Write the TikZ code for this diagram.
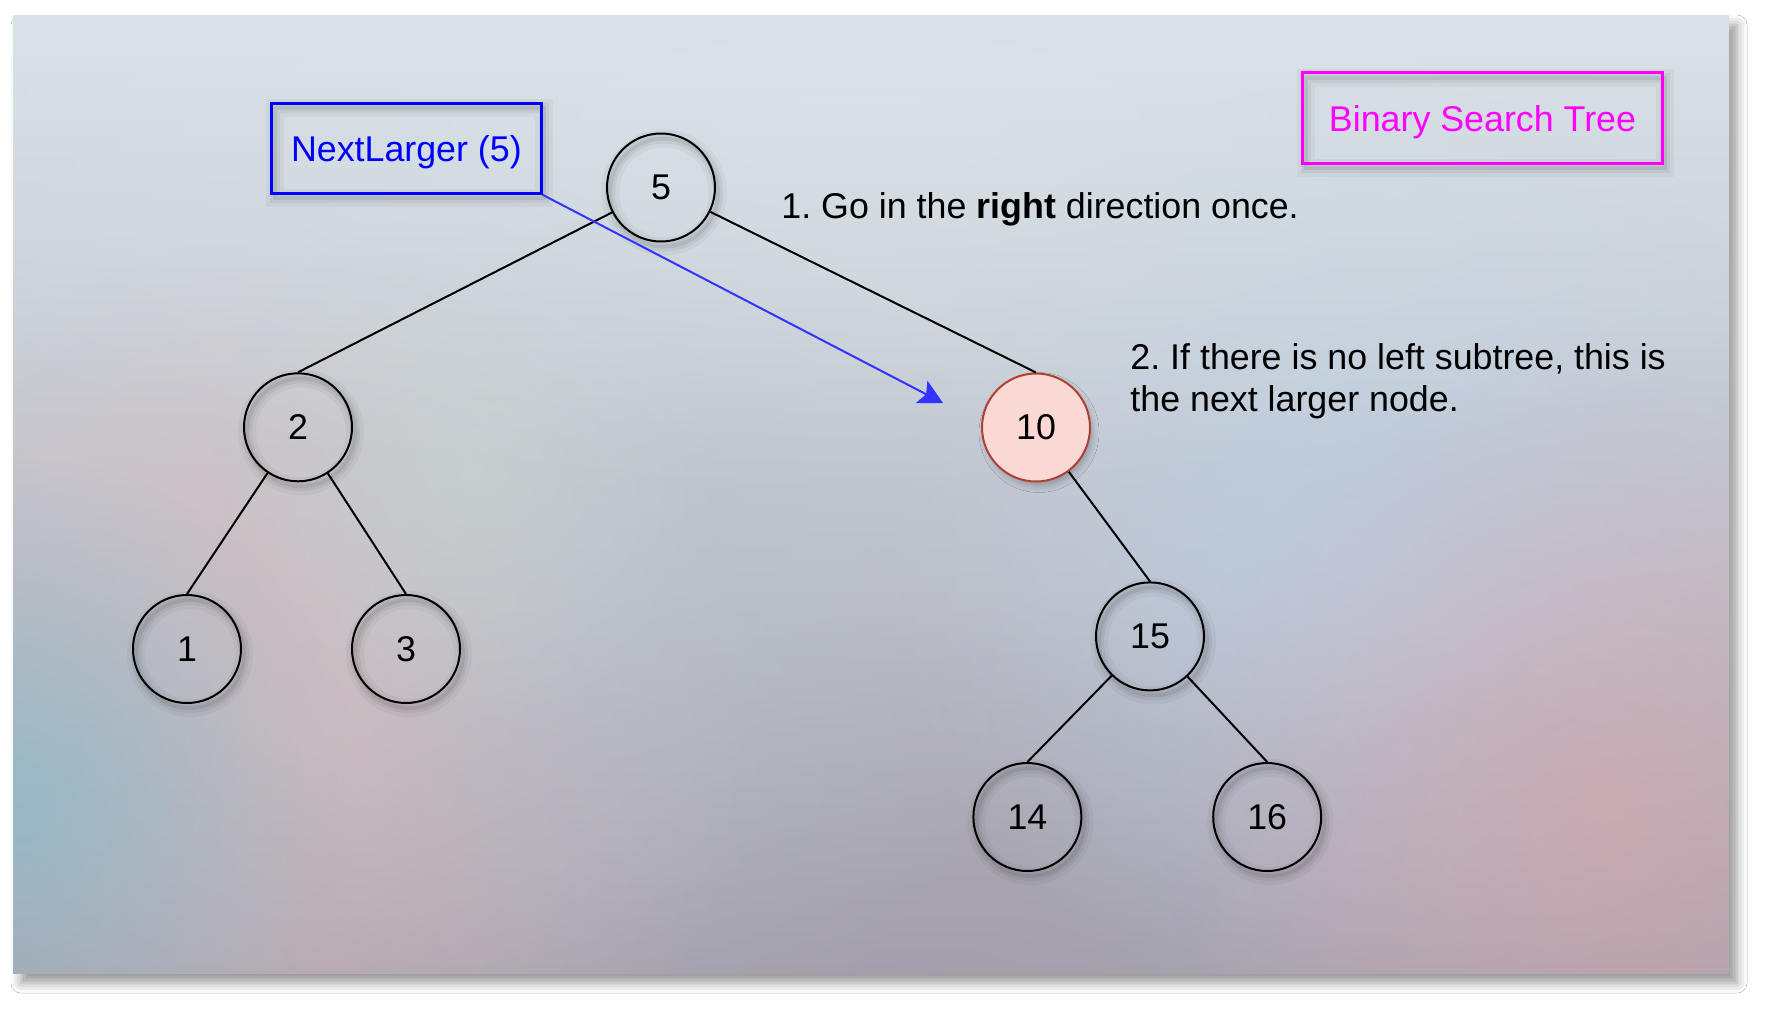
\documentclass[tikz,border=0pt]{standalone}
\usepackage{fontspec}
\setmainfont{Liberation Sans}
\usetikzlibrary{arrows.meta,shadows.blur,fadings}
\frenchspacing

% palette
\definecolor{bgtop}{RGB}{216,226,231}
\definecolor{bgmid}{RGB}{206,211,218}
\definecolor{bgbot}{RGB}{172,167,178}
\definecolor{blobpink}{RGB}{222,190,192}
\definecolor{blobteal}{RGB}{136,186,202}
\definecolor{blobrose}{RGB}{212,165,170}
\definecolor{blobblue}{RGB}{188,209,232}
\definecolor{blobslate}{RGB}{180,195,206}
\definecolor{blobdusk}{RGB}{156,152,166}
\definecolor{blobmint}{RGB}{202,218,214}
\definecolor{hiliteFill}{RGB}{250,217,213}
\definecolor{hiliteDraw}{RGB}{174,65,50}
\definecolor{callBlue}{RGB}{0,0,255}
\definecolor{arrowBlue}{RGB}{51,51,255}
\definecolor{titleMagenta}{RGB}{255,0,255}

\tikzfading[name=blobfade, inner color=transparent!0, outer color=transparent!100]

\tikzset{
  txt/.style={font=\fontsize{17.9}{21}\selectfont, inner sep=0pt},
  sshadow/.style={
    preaction={draw=black, draw opacity=0.035, line width=9pt, transform canvas={shift={(1.5pt,-2.5pt)}}},
    preaction={draw=black, draw opacity=0.05, line width=5pt, transform canvas={shift={(1.5pt,-2.5pt)}}},
    preaction={draw=black, draw opacity=0.07, line width=2pt, transform canvas={shift={(1.5pt,-2.5pt)}}}},
  bst/.style={circle, draw=black, line width=1pt, minimum size=54pt, inner sep=0pt,
    txt, sshadow},
  hilite/.style={circle, draw=hiliteDraw, fill=hiliteFill, line width=1pt, minimum size=54pt,
    inner sep=0pt, txt,
    blur shadow={shadow xshift=1.5pt, shadow yshift=-2.5pt, shadow blur radius=3pt, shadow opacity=22}},
  labelbox/.style={rectangle, line width=1.5pt, inner sep=0pt, txt, text height=14pt, text depth=1pt, sshadow},
  edge/.style={draw=black, line width=1pt},
  blob/.style={path fading=blobfade},
}

\begin{document}
\begin{tikzpicture}[x=0.5pt, y=-0.5pt]
\useasboundingbox (0,0) rectangle (1782,1029);
\fill[white] (0,0) rectangle (1782,1029);

% drop shadow of the backdrop panel
\path[blur shadow={shadow xshift=4pt, shadow yshift=-5pt, shadow blur radius=5pt, shadow opacity=40}]
  (13,15) rectangle (1729,973);

% soft, blurred backdrop panel
\begin{scope}
  \clip (13,15) rectangle (1729,973);
  \shade[top color=bgtop, middle color=bgmid, bottom color=bgbot] (13,15) rectangle (1729,973);
  \fill[blobdusk, opacity=0.6, blob] (880,1010) ellipse [x radius=1100, y radius=420];
  \fill[blobpink, opacity=0.7, blob] (290,720) circle (480);
  \fill[blobslate, opacity=0.5, blob] (620,640) circle (420);
  \fill[blobmint, opacity=0.5, blob] (470,470) circle (260);
  \fill[blobblue, opacity=0.7, blob] (1360,560) circle (480);
  \fill[blobrose, opacity=0.65, blob] (1600,810) circle (440);
  \fill[blobteal, opacity=0.7, blob] (20,800) circle (340);
  \fill[bgtop, opacity=0.65, blob] (860,120) ellipse [x radius=1200, y radius=380];
\end{scope}

% tree nodes
\node[bst]    (n5)  at (661,187.5)  {5};
\node[bst]    (n2)  at (298,427.3)  {2};
\node[bst]    (n1)  at (187,649)    {1};
\node[bst]    (n3)  at (406,649)    {3};
\node[hilite] (n10) at (1036,427.5) {10};
\node[bst]    (n15) at (1150,636.4) {15};
\node[bst]    (n14) at (1027.4,817) {14};
\node[bst]    (n16) at (1267.2,817) {16};

% tree edges
\draw[edge] (n2.north)  -- (n5);
\draw[edge] (n10.north) -- (n5);
\draw[edge] (n1.north)  -- (n2);
\draw[edge] (n3.north)  -- (n2);
\draw[edge] (n15.north) -- (n10);
\draw[edge] (n14.north) -- (n15);
\draw[edge] (n16.north) -- (n15);

% labels
\node[labelbox, draw=callBlue, text=callBlue, minimum width=134.7pt, minimum height=45pt]
  (call) at (406.4,148.3) {NextLarger (5)};
\node[labelbox, draw=titleMagenta, text=titleMagenta, minimum width=179.8pt, minimum height=45.3pt]
  (title) at (1482.5,118) {Binary Search Tree};

\node[txt, anchor=base west] (step1) at (781,218) {1. Go in the \textbf{right} direction once.};
\node[txt, anchor=base west, align=left] (step2) at (1130,411)
  {2. If there is no left subtree, this is\\the next larger node.};

% call arrow
\coordinate (target) at (943,403);
\draw[arrowBlue, line width=1pt, -{Stealth[length=12pt, width=12.5pt, inset=2.5pt]}]
  (call.south east) -- (target);
\end{tikzpicture}
\end{document}
